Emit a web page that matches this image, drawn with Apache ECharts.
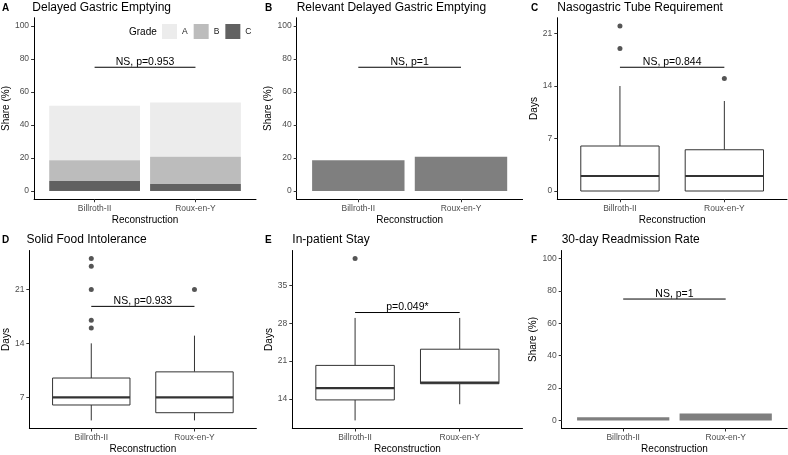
<!DOCTYPE html>
<html>
<head>
<meta charset="utf-8">
<script src="https://cdn.jsdelivr.net/npm/echarts@6/dist/echarts.min.js"></script>
<style>html,body{margin:0;padding:0;background:#fff}#c{width:788px;height:455px}</style>
</head>
<body>
<div id="c"></div>
<script>
// ---------- data ----------
const categories = ['Billroth-II', 'Roux-en-Y'];
const shareTicks = [0, 20, 40, 60, 80, 100];
const ngtTicks = [0, 7, 14, 21];
const sfiTicks = [7, 14, 21];
const stayTicks = [14, 21, 28, 35];
const gradeNames = ['A', 'B', 'C'];
const gradeA = [33.1, 32.9];
const gradeB = [12.5, 16.6];
const gradeC = [6.1, 4.2];
const relevantDGE = [18.6, 20.8];
const readmission = [1.9, 4.2];
// [min, Q1, median, Q3, max]
const ngtBox = [[0, 0, 2, 6, 14], [0, 0, 2, 5.5, 12]];
const ngtOutliers = [[1, 19], [1, 22], [2, 15]];
const sfiBox = [[4, 6, 7, 9.5, 14], [4, 5, 7, 10.3, 15]];
const sfiOutliers = [[1, 16], [1, 17], [1, 21], [1, 24], [1, 25], [2, 21]];
const stayBox = [[10, 13.8, 16, 20.2, 29], [13, 16.8, 17, 23.2, 29]];
const stayOutliers = [[1, 40]];
const sigLabels = ['NS, p=0.953', 'NS, p=1', 'NS, p=0.844', 'NS, p=0.933', 'p=0.049*', 'NS, p=1'];
const sigHeights = [75, 75, 16.5, 18.8, 30, 75];
const panelLetters = ['A', 'B', 'C', 'D', 'E', 'F'];
const panelTitles = ['Delayed Gastric Emptying', 'Relevant Delayed Gastric Emptying', 'Nasogastric Tube Requirement',
  'Solid Food Intolerance', 'In-patient Stay', '30-day Readmission Rate'];
const yTitles = ['Share (%)', 'Share (%)', 'Days', 'Days', 'Days', 'Share (%)'];
const xTitle = 'Reconstruction';

// ---------- layout ----------
const FONT = '"Liberation Sans", Arial, Helvetica, sans-serif';
const grids = [
  { left: 32.3, top: 17.75, width: 223.7, height: 181.5 },
  { left: 296.7, top: 17.75, width: 225.9, height: 181.5 },
  { left: 557.3, top: 17.75, width: 229.7, height: 181.5 },
  { left: 26.5, top: 250.5, width: 229.9, height: 181.5 },
  { left: 292.3, top: 250.5, width: 230.2, height: 181.5 },
  { left: 561.7, top: 250.5, width: 225.5, height: 181.5 }
];
const yRanges = [[-5, 105], [-5, 105], [-1.1, 23.1], [2.95, 26.05], [8.5, 41.5], [-5, 105]];
const yTickSets = [shareTicks, shareTicks, ngtTicks, sfiTicks, stayTicks, shareTicks];
const yNameGaps = [21, 20, 15.5, 15.5, 16, 20];

const AX = '#000';
const xAxes = grids.map((g, i) => ({
  type: 'value', gridIndex: i, min: 0.4, max: 2.6,
  name: xTitle, nameLocation: 'middle', nameGap: 15.5,
  nameTextStyle: { fontSize: 10, color: '#000', fontFamily: FONT },
  axisLine: { show: true, onZero: false, lineStyle: { color: AX, width: 1 } },
  axisTick: { show: true, length: 3, customValues: [1, 2], lineStyle: { color: '#333' } },
  axisLabel: { customValues: [1, 2], margin: 4.5, fontSize: 8.5, color: '#4d4d4d', fontFamily: FONT,
    formatter: v => categories[Math.round(v) - 1] },
  splitLine: { show: false }
}));
const yAxes = grids.map((g, i) => ({
  type: 'value', gridIndex: i, min: yRanges[i][0], max: yRanges[i][1],
  name: yTitles[i], nameLocation: 'middle', nameGap: yNameGaps[i],
  nameTextStyle: { fontSize: 10, color: '#000', fontFamily: FONT },
  axisLine: { show: true, onZero: false, lineStyle: { color: AX, width: 1 } },
  axisTick: { show: true, length: 3, customValues: yTickSets[i], lineStyle: { color: '#333' } },
  axisLabel: { customValues: yTickSets[i], margin: 5, fontSize: 8.5, color: '#4d4d4d', fontFamily: FONT },
  splitLine: { show: false }
}));

// ---------- renderers ----------
function barItem(params, api) {
  const x = api.value(0), y0 = api.value(1), y1 = api.value(2);
  const p0 = api.coord([x - 0.45, y1]);
  const p1 = api.coord([x + 0.45, y0]);
  return { type: 'rect', shape: { x: p0[0], y: p0[1], width: p1[0] - p0[0], height: p1[1] - p0[1] },
    style: { fill: api.visual('color') } };
}
function boxItem(params, api) {
  const x = api.value(0);
  const v = [1, 2, 3, 4, 5].map(k => api.value(k));
  const hw = 0.375;
  const cMin = api.coord([x, v[0]]), cQ1 = api.coord([x, v[1]]), cMed = api.coord([x, v[2]]),
        cQ3 = api.coord([x, v[3]]), cMax = api.coord([x, v[4]]);
  const l = api.coord([x - hw, v[2]])[0], r = api.coord([x + hw, v[2]])[0];
  const stroke = '#333';
  return { type: 'group', children: [
    { type: 'line', shape: { x1: cMin[0], y1: cMin[1], x2: cQ1[0], y2: cQ1[1] }, style: { stroke, lineWidth: 1 } },
    { type: 'line', shape: { x1: cQ3[0], y1: cQ3[1], x2: cMax[0], y2: cMax[1] }, style: { stroke, lineWidth: 1 } },
    { type: 'rect', shape: { x: l, y: cQ3[1], width: r - l, height: cQ1[1] - cQ3[1] }, style: { fill: '#fff', stroke, lineWidth: 1 } },
    { type: 'line', shape: { x1: l, y1: cMed[1], x2: r, y2: cMed[1] }, style: { stroke, lineWidth: 2.2 } }
  ] };
}
function sigRenderer(label) {
  return function (params, api) {
    const a = api.coord([api.value(0), api.value(2)]);
    const b = api.coord([api.value(1), api.value(2)]);
    return { type: 'group', children: [
      { type: 'line', shape: { x1: a[0], y1: a[1], x2: b[0], y2: b[1] }, style: { stroke: '#000', lineWidth: 1 } },
      { type: 'text', style: { text: label, x: (a[0] + b[0]) / 2, y: a[1] + 0.5, align: 'center', verticalAlign: 'bottom',
        fill: '#000', font: '10.5px ' + FONT } }
    ] };
  };
}

// ---------- series ----------
const series = [];
const gradeColors = { A: '#ececec', B: '#bcbcbc', C: '#616161' };
// stacked DGE (panel A): C at bottom, then B, then A
const stackOrder = [['C', gradeC], ['B', gradeB], ['A', gradeA]];
const base = categories.map(() => 0);
const stackSeries = {};
stackOrder.forEach(([name, vals]) => {
  const data = categories.map((c, k) => {
    const d = [k + 1, base[k], base[k] + vals[k]];
    base[k] += vals[k];
    return d;
  });
  stackSeries[name] = { type: 'custom', name, xAxisIndex: 0, yAxisIndex: 0, renderItem: barItem,
    itemStyle: { color: gradeColors[name] }, encode: { x: 0, y: [1, 2] }, data };
});
gradeNames.forEach(n => series.push(stackSeries[n]));

series.push({ type: 'custom', name: 'relevant', xAxisIndex: 1, yAxisIndex: 1, renderItem: barItem,
  itemStyle: { color: '#7f7f7f' }, encode: { x: 0, y: [1, 2] },
  data: relevantDGE.map((v, k) => [k + 1, 0, v]) });
series.push({ type: 'custom', name: 'readmission', xAxisIndex: 5, yAxisIndex: 5, renderItem: barItem,
  itemStyle: { color: '#7f7f7f' }, encode: { x: 0, y: [1, 2] },
  data: readmission.map((v, k) => [k + 1, 0, v]) });

[[ngtBox, ngtOutliers, 2], [sfiBox, sfiOutliers, 3], [stayBox, stayOutliers, 4]].forEach(([box, out, gi]) => {
  series.push({ type: 'custom', name: 'box' + gi, xAxisIndex: gi, yAxisIndex: gi, renderItem: boxItem,
    encode: { x: 0, y: [1, 2, 3, 4, 5] }, data: box.map((b, k) => [k + 1].concat(b)) });
  series.push({ type: 'scatter', name: 'out' + gi, xAxisIndex: gi, yAxisIndex: gi, symbolSize: 5,
    itemStyle: { color: '#2b2b2b' }, data: out });
});

sigLabels.forEach((lab, i) => {
  series.push({ type: 'custom', name: 'sig' + i, xAxisIndex: i, yAxisIndex: i, renderItem: sigRenderer(lab),
    encode: { x: [0, 1], y: 2 }, data: [[1, 2, sigHeights[i]]], z: 10 });
});

// ---------- titles ----------
const titles = [];
const letterPos = [[2, 3], [265, 3], [531, 3], [2, 235], [265, 235], [531, 235]];
grids.forEach((g, i) => {
  titles.push({ text: panelLetters[i], left: letterPos[i][0], top: letterPos[i][1], padding: 0,
    textStyle: { fontSize: 10, fontWeight: 'bold', color: '#000', fontFamily: FONT } });
  titles.push({ text: panelTitles[i], left: g.left, top: i < 3 ? 2 : 233.5, padding: 0,
    textStyle: { fontSize: 12, fontWeight: 'normal', color: '#000', fontFamily: FONT } });
});

const chart = echarts.init(document.getElementById('c'), null, { renderer: 'canvas' });
chart.setOption({
  animation: false,
  backgroundColor: '#fff',
  textStyle: { fontFamily: FONT },
  title: titles,
  grid: grids,
  xAxis: xAxes,
  yAxis: yAxes,
  legend: { data: gradeNames, left: 162, top: 24, itemWidth: 15, itemHeight: 15, itemGap: 6, icon: 'rect',
    selectedMode: false, padding: 0, textStyle: { fontSize: 8.5, color: '#1a1a1a', fontFamily: FONT } },
  graphic: [{ type: 'text', left: 129, top: 27, style: { text: 'Grade', font: '10px ' + FONT, fill: '#000' } }],
  series
});
</script>
</body>
</html>
